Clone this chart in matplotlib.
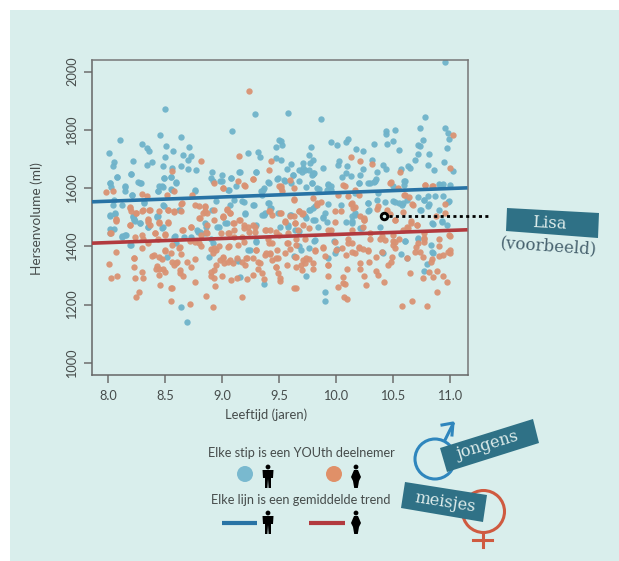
import matplotlib
matplotlib.use('Agg')
import matplotlib.pyplot as plt
from matplotlib.patches import Polygon, Circle, Rectangle

# (leeftijd, hersenvolume)
boys = [(8.50,1872),(9.29,1856),(9.09,1795),(8.46,1784),(8.11,1766),(8.64,1774),(8.30,1752),(8.34,1738),(8.36,1727),(8.51,1746),
(8.57,1729),(8.71,1742),(8.01,1720),(8.66,1715),(8.73,1711),(8.50,1707),(8.70,1695),(8.22,1692),(8.39,1689),(8.34,1678),
(8.05,1689),(8.04,1675),(8.48,1675),(8.64,1677),(8.56,1670),(8.70,1666),(8.77,1661),(8.91,1656),(8.20,1647),(8.08,1638),
(8.49,1634),(8.55,1637),(9.00,1645),(8.90,1635),(8.92,1623),(8.98,1623),(9.08,1635),(8.60,1620),(8.26,1621),(8.29,1618),
(8.02,1618),(8.03,1604),(8.15,1604),(8.15,1589),(8.45,1606),(8.48,1604),(8.44,1589),(8.55,1597),(8.76,1590),(8.21,1575),
(9.12,1608),(9.05,1592),(9.40,1620),(9.48,1632),(9.15,1655),(9.30,1655),(9.23,1721),(9.32,1723),(9.33,1707),(9.47,1741),
(9.47,1703),(9.50,1766),(9.37,1600),(9.34,1589),(8.05,1560),(8.04,1543),(8.12,1543),(8.32,1549),(8.48,1541),(8.02,1506),
(8.06,1512),(8.22,1506),(8.23,1494),(8.44,1503),(8.63,1526),(8.95,1555),(9.07,1543),(9.11,1560),(9.18,1555),(9.27,1541),
(9.35,1508),(9.40,1549),(9.43,1532),(9.20,1512),(8.64,1193),(8.69,1139),(9.37,1271),(9.16,1296),(9.30,1414),(9.23,1387),
(9.14,1351),(8.89,1362),(8.52,1362),(8.58,1433),(8.60,1410),(8.20,1405),(8.12,1433),(8.15,1439),(8.02,1460),(8.05,1459),
(8.02,1508),(8.06,1513),(8.22,1502),(8.23,1490),(8.28,1481),(8.35,1465),(8.47,1464),(8.43,1502),(8.79,1450),(8.85,1479),
(8.86,1467),(8.90,1427),(8.92,1410),(8.96,1467),(9.03,1479),(9.30,1473),(9.37,1508),(8.67,1433),(8.73,1433),(10.96,2033),
(9.58,1858),(9.87,1837),(10.78,1843),(10.74,1805),(10.44,1797),(10.44,1787),(10.52,1801),(10.96,1805),(10.98,1789),(10.99,1770),
(9.96,1757),(10.01,1747),(10.09,1758),(10.11,1769),(10.33,1752),(10.45,1753),(10.50,1762),(10.76,1764),(10.72,1749),(10.74,1743),
(9.78,1741),(10.18,1734),(10.24,1726),(10.55,1730),(10.97,1738),(9.76,1715),(10.72,1718),(10.82,1717),(10.69,1698),(9.52,1698),
(9.52,1761),(9.53,1749),(9.80,1698),(9.77,1686),(10.03,1692),(10.02,1680),(10.32,1695),(9.61,1683),(9.71,1686),(9.71,1669),
(9.68,1661),(9.73,1663),(9.76,1663),(9.57,1667),(9.89,1669),(10.10,1677),(10.24,1667),(10.41,1678),(10.44,1666),(10.36,1655),
(10.63,1677),(10.65,1669),(10.57,1666),(10.81,1680),(10.86,1662),(10.95,1689),(11.03,1658),(10.09,1652),(10.13,1643),(10.05,1637),
(10.21,1646),(9.80,1650),(9.81,1652),(9.79,1646),(9.62,1646),(10.35,1632),(10.61,1623),(10.60,1612),(10.20,1618),(10.28,1618),
(10.33,1620),(9.79,1618),(9.93,1615),(9.96,1606),(9.74,1604),(9.83,1600),(10.90,1614),(10.94,1614),(11.00,1610),(9.54,1627),
(9.61,1618),(9.92,1595),(10.36,1560),(10.28,1549),(10.29,1524),(10.50,1555),(10.55,1549),(10.62,1558),(10.58,1543),(10.81,1572),
(10.77,1560),(10.87,1572),(10.94,1572),(10.99,1555),(10.04,1543),(9.93,1545),(9.77,1526),(9.82,1537),(9.90,1515),(9.89,1500),
(10.14,1503),(10.17,1515),(10.74,1526),(10.90,1526),(10.43,1552),(10.82,1545),(9.61,1509),(9.74,1497),(10.17,1583),(10.37,1583),
(9.90,1243),(9.90,1213),(9.74,1299),(10.77,1315),(10.80,1338),(10.85,1376),(10.83,1405),(10.61,1418),(10.57,1374),(10.41,1378),
(10.72,1427),(9.99,1376),(10.01,1390),(9.93,1361),(9.76,1395),(9.69,1387),(9.63,1367),(9.81,1419),(10.85,1477),(10.93,1482),
(10.39,1465),(10.23,1462),(10.14,1479),(10.09,1485),(9.92,1485),(9.80,1490),(9.84,1467),(9.64,1456),(9.68,1453),(9.58,1467),
(9.60,1508),(9.08,1634),(9.00,1623),(9.16,1657),(9.30,1654),(9.41,1619),(9.49,1634),(9.62,1646),(9.55,1623),(9.79,1617),
(9.68,1623),(9.93,1611),(9.96,1594),(9.85,1597),(9.36,1594),(9.35,1577),(9.06,1594),(9.19,1554),(9.28,1543),(9.41,1548),
(9.42,1531),(9.38,1514),(9.49,1514),(9.20,1514),(9.04,1480),(8.97,1468),(9.76,1526),(9.80,1531),(9.82,1491),(9.89,1497),
(9.58,1474),(9.51,1468),(9.73,1503),(9.30,1417),(9.82,1423),(9.68,1400),(9.25,1388),(9.13,1354),(9.98,1417),(9.70,1657),
(9.80,1652),(10.20,1617),(10.30,1617),(10.34,1623),(10.60,1623),(10.50,1606),(10.91,1611),(10.28,1548),(10.28,1523),(10.52,1554),
(10.59,1548),(10.72,1571),(10.77,1560),(10.81,1537),(10.75,1526),(10.98,1554),(10.84,1480),(10.93,1486),(10.17,1508),(10.14,1486),
(10.21,1463),(10.72,1428),(10.61,1420),(10.97,1474),(10.84,1382),(10.62,1360),(10.40,1382),(8.08,1638),(8.20,1647),(8.02,1617),
(8.15,1606),(8.28,1619),(8.49,1634),(8.55,1638),(8.60,1619),(8.47,1606),(8.44,1589),(8.56,1594),(8.76,1592),(8.21,1577),
(8.32,1554),(8.49,1537),(8.62,1526),(8.24,1486),(8.28,1480),(8.43,1503),(8.35,1468),(8.48,1466),(8.02,1445),(8.12,1434),
(8.16,1440),(8.59,1436),(8.78,1457),(8.81,1451),(8.85,1445),(8.19,1405),(8.91,1526)]

girls = [(9.24,1932),(8.82,1692),(9.15,1709),(9.43,1692),(9.41,1662),(8.56,1658),(9.27,1631),(9.14,1623),(9.19,1610),(9.01,1599),
(8.93,1617),(7.98,1587),(8.04,1589),(8.58,1591),(8.30,1580),(8.34,1572),(8.52,1577),(8.74,1575),(9.50,1606),(8.64,1547),
(8.76,1543),(8.80,1537),(8.19,1535),(8.20,1522),(8.30,1520),(8.36,1526),(8.25,1515),(8.53,1526),(8.58,1518),(8.64,1520),
(8.85,1535),(8.83,1515),(8.93,1526),(9.04,1528),(9.07,1515),(9.01,1501),(8.45,1523),(9.41,1522),(9.44,1508),(8.07,1494),
(8.35,1494),(8.07,1379),(8.01,1340),(8.03,1292),(8.08,1299),(8.02,1445),(8.07,1488),(8.23,1359),(8.23,1329),(8.30,1313),
(8.24,1292),(8.31,1292),(8.27,1244),(8.25,1227),(8.46,1266),(8.55,1258),(8.56,1256),(8.55,1212),(8.72,1202),(8.92,1193),
(8.86,1229),(8.76,1277),(8.94,1264),(9.18,1227),(8.39,1368),(8.45,1364),(8.47,1356),(8.50,1384),(8.55,1378),(8.64,1374),
(8.62,1395),(8.30,1393),(8.56,1347),(8.60,1342),(8.61,1347),(8.58,1336),(8.69,1345),(8.76,1356),(8.73,1328),(8.43,1332),
(8.42,1321),(8.45,1321),(8.48,1324),(8.50,1311),(8.45,1302),(8.63,1319),(8.63,1307),(8.66,1299),(8.90,1313),(8.93,1319),
(8.90,1299),(8.93,1290),(9.00,1298),(8.95,1336),(8.98,1353),(9.01,1364),(9.05,1345),(9.02,1342),(8.93,1393),(8.90,1390),
(8.92,1376),(8.95,1387),(9.10,1344),(9.13,1359),(9.21,1361),(9.27,1359),(9.18,1347),(9.08,1284),(9.13,1290),(9.22,1287),
(9.27,1302),(9.33,1342),(9.32,1324),(9.35,1307),(9.37,1288),(9.05,1399),(9.19,1416),(9.30,1387),(9.41,1410),(9.39,1378),
(9.42,1374),(9.47,1359),(9.44,1352),(9.47,1330),(9.49,1307),(8.19,1473),(8.35,1485),(8.37,1473),(8.45,1479),(8.53,1481),
(8.41,1445),(8.44,1427),(8.50,1442),(8.24,1433),(8.31,1427),(8.35,1410),(8.66,1456),(8.73,1465),(8.76,1416),(8.80,1410),
(8.82,1439),(8.86,1450),(8.80,1496),(8.87,1513),(8.93,1490),(9.01,1502),(8.99,1445),(9.05,1445),(9.11,1479),(9.15,1490),
(9.19,1473),(9.27,1473),(9.24,1450),(9.18,1433),(9.11,1433),(9.38,1456),(9.42,1456),(9.50,1439),(9.40,1427),(11.03,1784),
(10.13,1707),(10.21,1692),(10.32,1684),(10.56,1655),(11.00,1669),(10.48,1620),(10.54,1600),(10.78,1610),(10.85,1606),(10.06,1612),
(10.08,1606),(9.60,1627),(9.63,1600),(9.52,1600),(9.53,1589),(10.17,1595),(10.02,1578),(10.11,1572),(10.20,1575),(9.63,1560),
(9.80,1566),(9.87,1551),(9.83,1543),(10.13,1545),(10.17,1534),(10.37,1540),(10.36,1528),(10.45,1526),(10.61,1575),(10.64,1568),
(10.67,1545),(10.96,1545),(10.88,1506),(10.59,1518),(9.68,1522),(9.70,1512),(9.63,1503),(9.99,1520),(10.04,1520),(9.52,1515),
(10.21,1506),(10.25,1496),(10.96,1515),(10.47,1510),(10.58,1194),(10.67,1211),(10.80,1195),(10.89,1244),(10.97,1279),(10.94,1299),
(10.89,1316),(10.85,1296),(10.82,1311),(10.76,1290),(10.65,1307),(10.62,1359),(10.76,1362),(10.84,1355),(10.83,1347),(10.98,1382),
(11.00,1378),(10.94,1370),(10.90,1368),(11.00,1388),(10.90,1401),(10.69,1382),(10.74,1382),(10.70,1399),(10.72,1410),(10.77,1416),
(10.49,1364),(10.48,1347),(10.46,1336),(10.35,1364),(10.29,1347),(10.40,1382),(10.21,1344),(10.21,1324),(10.10,1322),(10.35,1316),
(10.37,1302),(10.25,1299),(10.26,1267),(10.42,1279),(10.06,1296),(10.08,1270),(10.02,1259),(10.06,1275),(9.63,1258),(9.65,1258),
(10.07,1225),(10.10,1218),(9.93,1299),(9.93,1336),(9.80,1321),(9.89,1395),(9.90,1368),(9.82,1385),(9.80,1344),(9.76,1356),
(9.71,1353),(9.73,1342),(9.69,1336),(9.70,1319),(9.65,1328),(9.57,1336),(9.55,1376),(9.65,1364),(9.60,1390),(9.65,1405),
(9.51,1290),(9.51,1282),(9.99,1414),(10.05,1393),(10.09,1370),(10.14,1382),(10.20,1399),(10.24,1390),(10.28,1385),(10.11,1413),
(10.14,1410),(10.17,1376),(10.50,1405),(10.52,1416),(10.55,1427),(10.39,1427),(10.43,1422),(10.30,1424),(10.59,1456),(10.63,1462),
(10.66,1479),(10.71,1473),(10.77,1445),(10.77,1427),(10.90,1427),(10.99,1439),(10.52,1490),(10.25,1490),(9.99,1485),(10.14,1456),
(10.11,1427),(9.96,1456),(9.71,1473),(9.64,1479),(9.55,1485),(9.73,1427),(9.57,1410),(9.65,1427),(9.27,1631),(9.01,1600),
(9.20,1609),(9.52,1606),(9.63,1562),(9.83,1548),(9.42,1523),(9.51,1514),(9.04,1526),(9.07,1514),(9.01,1503),(9.16,1491),
(9.10,1480),(9.23,1468),(9.19,1463),(9.29,1468),(9.39,1457),(9.55,1486),(9.64,1480),(9.60,1503),(9.68,1520),(9.71,1514),
(9.06,1445),(9.11,1457),(9.29,1451),(9.47,1451),(9.58,1445),(9.67,1457),(9.76,1463),(9.93,1457),(8.97,1400),(9.06,1400),
(9.14,1405),(9.30,1388),(9.44,1411),(9.48,1388),(9.58,1411),(9.82,1388),(9.89,1397),(9.93,1337),(10.00,1388),(9.74,1360),
(9.64,1363),(9.49,1360),(9.42,1377),(9.38,1371),(9.32,1348),(9.22,1360),(9.01,1360),(9.07,1354),(9.20,1337),(9.47,1329),
(10.47,1617),(10.78,1611),(10.84,1606),(10.60,1577),(10.68,1543),(10.52,1491),(10.66,1486),(10.62,1468),(10.71,1474),(10.14,1548),
(10.15,1531),(10.25,1491),(10.24,1468),(10.30,1445),(10.40,1434),(10.50,1440),(10.77,1428),(11.00,1434),(10.20,1394),(10.28,1388),
(10.50,1417),(10.52,1394),(8.19,1531),(8.25,1514),(8.31,1526),(8.37,1526),(8.53,1526),(8.58,1520),(8.65,1548),(8.85,1537),
(8.07,1491),(8.19,1474),(8.35,1491),(8.53,1482),(8.45,1482),(8.65,1455),(8.73,1466),(8.85,1520),(8.81,1497),(8.87,1474),
(8.87,1445),(8.41,1445),(8.50,1440),(8.03,1445),(8.30,1440),(8.72,1417),(8.82,1402),(8.63,1397),(8.56,1405),(8.50,1386),
(8.40,1369),(8.23,1360)]

trend_age = [7.86, 11.154]
trend_boys = [1553, 1601]
trend_girls = [1411, 1457]
lisa_age = [10.42]
lisa_vol = [1505]

xticks = [8.0, 8.5, 9.0, 9.5, 10.0, 10.5, 11.0]
yticks = [1000, 1200, 1400, 1600, 1800, 2000]

bg = '#d9eeec'
dot_blue = '#6fb3ca'
dot_orange = '#da9273'
line_blue = '#2873a5'
line_red = '#b23a3e'
label_bg = '#2f7186'
ink = '#464c4b'

plt.rcParams['font.family'] = ['Lato', 'DejaVu Sans']

W, H = 619, 561
fig = plt.figure(figsize=(W / 100, H / 100), dpi=100, facecolor='white')

# page background sits behind the plot
back = fig.add_axes([0, 0, 1, 1], zorder=0)
back.set_xlim(0, W)
back.set_ylim(H, 0)
back.axis('off')
back.add_patch(Rectangle((9.5, 9.5), W, H, color=bg, lw=0))

ax = fig.add_axes([92 / W, 1 - 374.5 / H, 375.5 / W, 314.5 / H], zorder=1)
ax.set_facecolor(bg)
ax.scatter(*zip(*boys), s=21, color=dot_blue, lw=0, alpha=0.95, zorder=2)
ax.scatter(*zip(*girls), s=21, color=dot_orange, lw=0, alpha=0.95, zorder=2)
ax.plot(trend_age, trend_boys, color=line_blue, lw=2.6, solid_capstyle='butt', zorder=3)
ax.plot(trend_age, trend_girls, color=line_red, lw=2.6, solid_capstyle='butt', zorder=3)
ax.scatter(lisa_age, lisa_vol, s=22, facecolor=bg, edgecolor='black', lw=2.1, zorder=4)
ax.set_xlim(7.86, 11.154)
ax.set_ylim(960, 2040)
ax.set_xticks(xticks, [f'{t:.1f}' for t in xticks])
ax.set_yticks(yticks, [str(t) for t in yticks])
ax.tick_params(axis='x', length=5.8, width=1.1, color='#6d6d6d', labelsize=9.2, labelcolor=ink, pad=5)
ax.tick_params(axis='y', length=5.8, width=1.1, color='#6d6d6d', labelsize=9.2, labelcolor=ink, pad=4, labelrotation=90)
for t in ax.get_yticklabels():
    t.set_va('center')
for s in ax.spines.values():
    s.set_color('#777777')
    s.set_linewidth(1.1)
ax.spines['left'].set_color('#666666')
ax.spines['bottom'].set_color('#666666')

# everything outside the axes, in pixels of the page
top = fig.add_axes([0, 0, 1, 1], zorder=2)
top.set_xlim(0, W)
top.set_ylim(H, 0)
top.axis('off')
top.patch.set_alpha(0)

top.text(37, 219, 'Hersenvolume (ml)', rotation=90, ha='center', va='center', fontsize=9.8, color=ink)
top.text(266, 415, 'Leeftijd (jaren)', ha='center', va='center', fontsize=9.4, color=ink)
top.plot([389, 491], [216, 216], color='black', lw=2, ls=(0, (1.1, 1.2)))


def man(x, y):
    top.add_patch(Circle((x, y - 9), 2.4, color='black', lw=0))
    top.add_patch(Polygon([(x - 5.5, y - 6), (x + 5.5, y - 6), (x + 5, y + 2), (x + 3, y + 2), (x + 3, y + 12),
                           (x + 0.6, y + 12), (x, y + 3), (x - 0.6, y + 12), (x - 3, y + 12), (x - 3, y + 2), (x - 5, y + 2)],
                          color='black', lw=0))


def woman(x, y):
    top.add_patch(Circle((x, y - 9), 2.4, color='black', lw=0))
    top.add_patch(Polygon([(x - 2, y - 6), (x + 2, y - 6), (x + 5, y + 1), (x + 3, y + 5), (x + 1.8, y + 12),
                           (x - 1.8, y + 12), (x - 3, y + 5), (x - 5, y + 1)], color='black', lw=0))


top.text(301, 453, 'Elke stip is een YOUth deelnemer', ha='center', va='center', fontsize=9.15, color=ink)
top.text(301, 500, 'Elke lijn is een gemiddelde trend', ha='center', va='center', fontsize=9.15, color=ink)
top.add_patch(Circle((245, 474), 8, color='#79b9cf', lw=0))
top.add_patch(Circle((334, 474), 8, color='#e09068', lw=0))
man(268, 476)
woman(356, 476)
top.plot([222, 257], [523, 523], color=line_blue, lw=3, solid_capstyle='butt')
top.plot([309, 345], [523, 523], color=line_red, lw=3, solid_capstyle='butt')
man(268, 522)
woman(356, 522)

# gender symbols with their labels on top
male = '#2f86bd'
female = '#cf5a40'
top.add_patch(Circle((435, 459), 20, fill=False, ec=male, lw=2.2))
top.plot([445, 453], [440, 424], color=male, lw=2.2)
top.plot([442, 453, 452], [425, 423, 435], color=male, lw=2.2)
top.add_patch(Circle((483.5, 511.5), 21, fill=False, ec=female, lw=2.2))
top.plot([483, 483], [533, 547], color=female, lw=2.2)
top.plot([473, 492], [540, 540], color=female, lw=2.2)

top.add_patch(Polygon([(440, 448), (533, 419), (539, 443), (447, 472)], color=label_bg, lw=0))
top.text(488, 445, 'jongens', rotation=17, rotation_mode='anchor', ha='center', va='center',
         family='DejaVu Serif', fontsize=11.7, color='#dcebea')
top.add_patch(Polygon([(405, 482), (487, 495), (483, 522), (401, 508)], color=label_bg, lw=0))
top.text(445, 502, 'meisjes', rotation=-9, rotation_mode='anchor', ha='center', va='center',
         family='DejaVu Serif', fontsize=11.7, color='#dcebea')
top.add_patch(Polygon([(507, 208), (599, 213), (598, 238), (506, 231)], color=label_bg, lw=0))
top.text(549, 223, 'Lisa', rotation=-3, rotation_mode='anchor', ha='center', va='center',
         family='DejaVu Serif', fontsize=11.8, color='#dcebea')
top.text(548, 246, '(voorbeeld)', rotation=-4, rotation_mode='anchor', ha='center', va='center',
         family='DejaVu Serif', fontsize=12, color='#46616e')

fig.savefig('out.png', dpi=100)
